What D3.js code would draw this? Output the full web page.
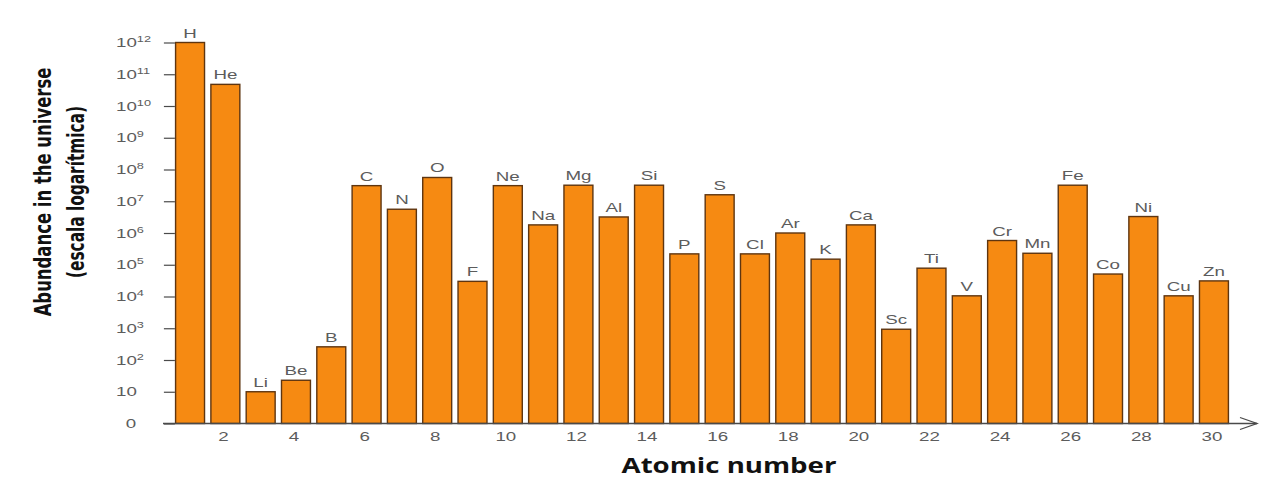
<!DOCTYPE html>
<html>
<head>
<meta charset="utf-8">
<script src="https://cdn.jsdelivr.net/npm/d3@7"></script>
<style>
  html, body { margin: 0; padding: 0; background: #ffffff; }
  svg { display: block; }
</style>
</head>
<body>
<svg id="chart" width="1263" height="478"></svg>
<script>
// Cosmic abundance of the first 30 elements (relative, logarithmic)
const atomicNumbers = d3.range(1, 31);
const symbols = ["H","He","Li","Be","B","C","N","O","F","Ne",
                 "Na","Mg","Al","Si","P","S","Cl","Ar","K","Ca",
                 "Sc","Ti","V","Cr","Mn","Fe","Co","Ni","Cu","Zn"];
const abundance = [1e12, 4.8e10, 10, 23, 260, 3.1e7, 5.6e6, 5.6e7, 3e4, 3.1e7,
                   1.8e6, 3.2e7, 3.2e6, 3.2e7, 2.2e5, 1.6e7, 2.2e5, 1e6, 1.5e5, 1.8e6,
                   930, 7.8e4, 1.05e4, 5.8e5, 2.3e5, 3.2e7, 5.1e4, 3.3e6, 1.05e4, 3.1e4];
const yTickExponents = d3.range(0, 13);
const xTickValues = d3.range(2, 31, 2);
const yTitleLines = ["Abundance in the universe", "(escala logarítmica)"];
const xTitle = "Atomic number";

const svg = d3.select("#chart");
const plot = { left: 172.4, right: 1231.6, top: 42.5, bottom: 423.5 };

const x = d3.scaleBand()
  .domain(atomicNumbers)
  .range([plot.left, plot.right])
  .paddingInner(0.18)
  .paddingOuter(0.09);

const y = d3.scaleLog()
  .domain([1, 1e12])
  .range([plot.bottom, plot.top]);

const stretch = 1.5;           // wide lettering of the small labels
const labelColor = "#5c5c5c";
const labelFont = "Liberation Sans, Arial, sans-serif";

// Bars
svg.append("g")
  .selectAll("rect")
  .data(atomicNumbers)
  .join("rect")
  .attr("x", d => x(d))
  .attr("y", (d, i) => y(abundance[i]))
  .attr("width", x.bandwidth())
  .attr("height", (d, i) => y(1) - y(abundance[i]))
  .attr("fill", "#f68a12")
  .attr("stroke", "#5e3510")
  .attr("stroke-width", 1.4);

// Element symbols above bars
svg.append("g")
  .selectAll("text")
  .data(atomicNumbers)
  .join("text")
  .attr("transform", (d, i) => `translate(${x(d) + x.bandwidth() / 2},${y(abundance[i]) - 5}) scale(${stretch},1)`)
  .attr("text-anchor", "middle")
  .attr("font-family", labelFont)
  .attr("font-size", 12.5)
  .attr("fill", labelColor)
  .text((d, i) => symbols[i]);

// Y axis ticks (no spine)
const yAxis = d3.axisLeft(y)
  .tickValues(yTickExponents.map(e => Math.pow(10, e)))
  .tickSize(11)
  .tickFormat("");
const yAxisG = svg.append("g")
  .attr("transform", `translate(${plot.left + 2.5},0)`)
  .call(yAxis);
yAxisG.select(".domain").remove();
yAxisG.selectAll(".tick line").attr("stroke", "#4a4a4a").attr("stroke-width", 1.2);

// Y tick labels: 0, 10, 10², ...
const yLabels = svg.append("g");
yTickExponents.forEach(e => {
  const ty = y(Math.pow(10, e)) + 4.5;
  const t = yLabels.append("text")
    .attr("font-family", labelFont)
    .attr("font-size", 12.5)
    .attr("fill", labelColor);
  if (e === 0) {
    t.attr("transform", `translate(131,${ty}) scale(${stretch},1)`)
     .attr("text-anchor", "middle").text("0");
  } else if (e === 1) {
    t.attr("transform", `translate(116,${ty}) scale(${stretch},1)`).text("10");
  } else {
    t.attr("transform", `translate(116,${ty}) scale(${stretch},1)`);
    t.append("tspan").text("10");
    t.append("tspan")
      .attr("dy", -5)
      .attr("font-size", 8.5)
      .text(String(e));
  }
});

// X tick labels (even atomic numbers)
svg.append("g")
  .selectAll("text")
  .data(xTickValues)
  .join("text")
  .attr("transform", d => `translate(${x(d) + x.bandwidth() / 2 - 2},${441}) scale(${stretch},1)`)
  .attr("text-anchor", "middle")
  .attr("font-family", labelFont)
  .attr("font-size", 12.5)
  .attr("fill", labelColor)
  .text(d => d);

// Baseline with open arrowhead
const baseY = y(1);
svg.append("line")
  .attr("x1", 163).attr("x2", 1257)
  .attr("y1", baseY).attr("y2", baseY)
  .attr("stroke", "#4a4a4a").attr("stroke-width", 1.3);
svg.append("path")
  .attr("d", `M1240,${baseY - 6}L1257,${baseY}L1240,${baseY + 6}`)
  .attr("fill", "none")
  .attr("stroke", "#4a4a4a").attr("stroke-width", 1.3);

// Fit a title to a given length along its reading direction
function fitText(sel, cx, cy, angle, targetLen) {
  const len = sel.node().getComputedTextLength() || targetLen;
  sel.attr("transform", `translate(${cx},${cy}) rotate(${angle}) scale(${targetLen / len},1)`);
}

// Axis titles
const yTitleLen = [249, 172];
yTitleLines.forEach((line, i) => {
  const t = svg.append("text")
    .attr("text-anchor", "middle")
    .attr("font-family", "Liberation Sans Narrow, DejaVu Sans Condensed, Arial Narrow, sans-serif")
    .attr("font-weight", 700)
    .attr("font-size", 23)
    .attr("fill", "#111")
    .text(line);
  fitText(t, 51 + i * 33, 192, -90, yTitleLen[i]);
});

const xt = svg.append("text")
  .attr("text-anchor", "middle")
  .attr("font-family", "Open Sans, Liberation Sans, sans-serif")
  .attr("font-weight", 700)
  .attr("font-size", 21)
  .attr("fill", "#111")
  .text(xTitle);
fitText(xt, 729, 473, 0, 215);
</script>
</body>
</html>
